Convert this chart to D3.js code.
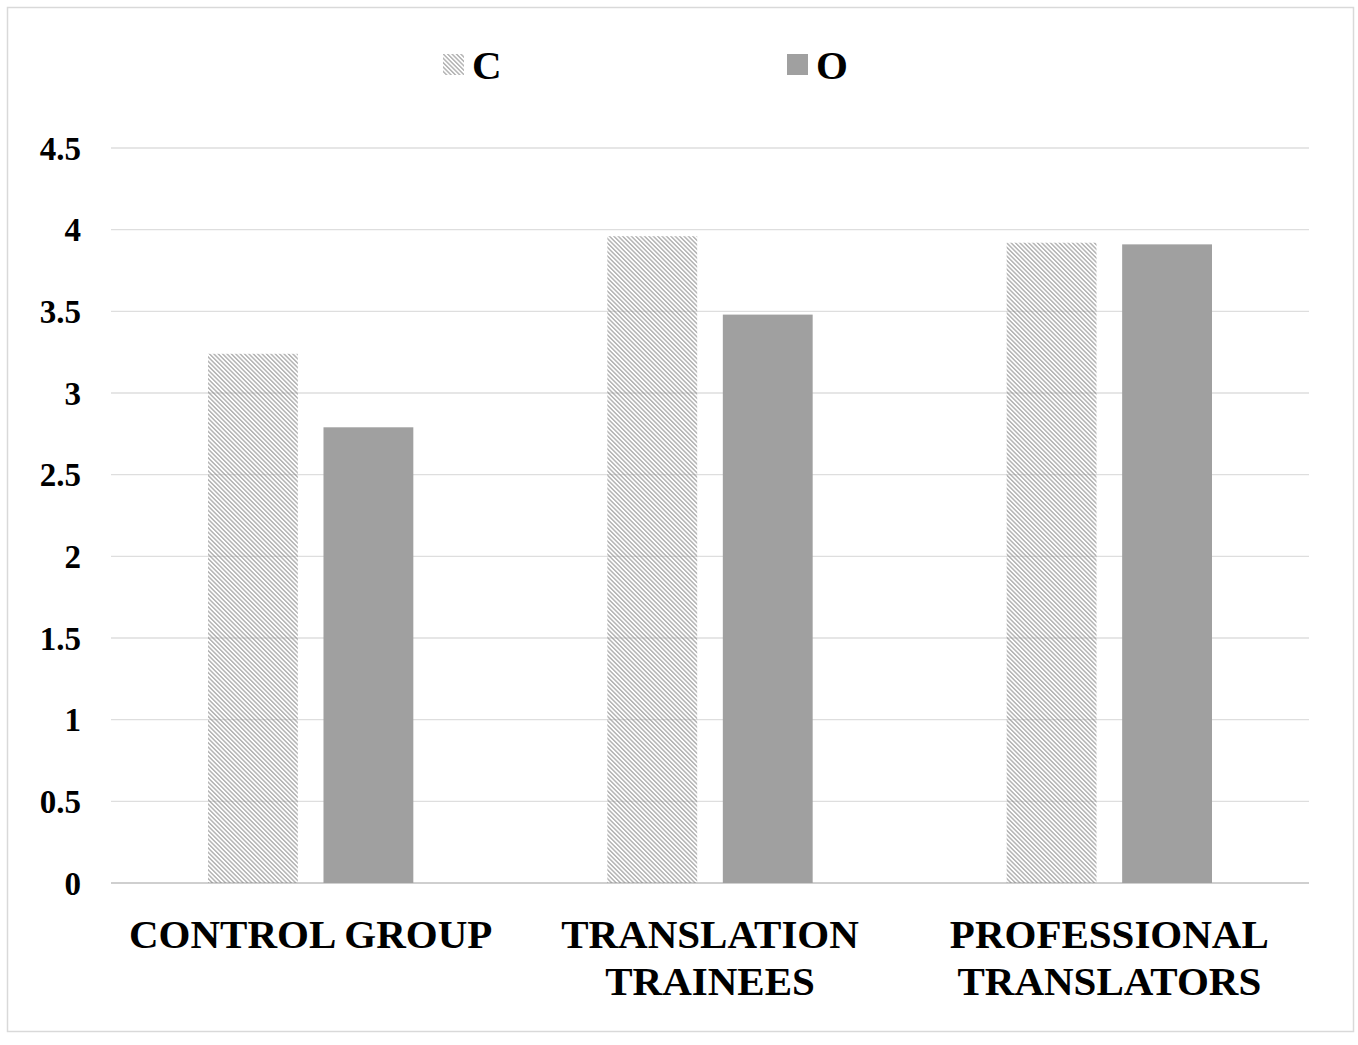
<!DOCTYPE html>
<html>
<head>
<meta charset="utf-8">
<script src="https://cdn.jsdelivr.net/npm/d3@7"></script>
<style>
  body { margin: 0; background: #fff; }
  text { font-family: "Liberation Serif", "Times New Roman", serif; font-weight: bold; fill: #000; }
</style>
</head>
<body>
<svg id="chart" width="1358" height="1045"></svg>
<script>
// data
const groups = ["CONTROL GROUP", "TRANSLATION TRAINEES", "PROFESSIONAL TRANSLATORS"];
const groupLines = [["CONTROL GROUP"], ["TRANSLATION", "TRAINEES"], ["PROFESSIONAL", "TRANSLATORS"]];
const series = ["C", "O"];
const valuesC = [3.24, 3.96, 3.92];
const valuesO = [2.79, 3.48, 3.91];
const yTicks = [0, 0.5, 1, 1.5, 2, 2.5, 3, 3.5, 4, 4.5];

const W = 1358, H = 1045;
const plotLeft = 111, plotRight = 1309, plotBottom = 883, plotTop = 148;

const svg = d3.select("#chart");

// hatch for series C
const defs = svg.append("defs");
defs.append("pattern")
    .attr("id", "hatch")
    .attr("patternUnits", "userSpaceOnUse")
    .attr("width", 8)
    .attr("height", 3.1)
    .attr("patternTransform", "rotate(45)")
  .append("line")
    .attr("x1", 0).attr("y1", 0.8)
    .attr("x2", 8).attr("y2", 0.8)
    .attr("stroke", "#888")
    .attr("stroke-width", 0.95);

// outer frame
svg.append("rect")
    .attr("x", 7.5).attr("y", 7.5)
    .attr("width", 1346).attr("height", 1024)
    .attr("fill", "none")
    .attr("stroke", "#d9d9d9")
    .attr("stroke-width", 1.5);

const x = d3.scaleBand().domain(groups).range([plotLeft, plotRight]);
const xs = d3.scaleBand().domain(series).range([0, x.bandwidth()])
    .paddingInner(0.222).paddingOuter(0.84);
const y = d3.scaleLinear().domain([0, 4.5]).range([plotBottom, plotTop]);

// gridlines
svg.append("g")
  .selectAll("line")
  .data(yTicks)
  .join("line")
    .attr("x1", plotLeft).attr("x2", plotRight)
    .attr("y1", d => y(d)).attr("y2", d => y(d))
    .attr("stroke", d => d === 0 ? "#cfcfcf" : "#dedede")
    .attr("stroke-width", d => d === 0 ? 2 : 1.3);

// y labels
svg.append("g")
  .selectAll("text")
  .data(yTicks)
  .join("text")
    .attr("x", 81)
    .attr("y", d => y(d))
    .attr("dy", "0.35em")
    .attr("text-anchor", "end")
    .style("font-size", "33px")
    .text(d => d);

// bars
const rows = groups.map((g, i) => ({group: g, C: valuesC[i], O: valuesO[i]}));
const fills = {C: "url(#hatch)", O: "#a0a0a0"};

svg.append("g")
  .selectAll("g")
  .data(rows)
  .join("g")
    .attr("transform", d => `translate(${x(d.group)},0)`)
  .selectAll("rect")
  .data(d => series.map(s => ({key: s, value: d[s]})))
  .join("rect")
    .attr("x", d => xs(d.key))
    .attr("width", xs.bandwidth())
    .attr("y", d => y(d.value))
    .attr("height", d => y(0) - y(d.value))
    .attr("fill", d => fills[d.key]);

// x labels
const xl = svg.append("g")
  .selectAll("text")
  .data(groups)
  .join("text")
    .attr("x", d => x(d) + x.bandwidth() / 2)
    .attr("y", 948)
    .attr("text-anchor", "middle")
    .style("font-size", "41px");
xl.selectAll("tspan")
  .data((d, i) => groupLines[i])
  .join("tspan")
    .attr("x", function() { return this.parentNode.getAttribute("x"); })
    .attr("dy", (d, i) => i === 0 ? 0 : 47)
    .text(d => d);

// legend
const legendPos = [443, 787];
const lg = svg.append("g")
  .selectAll("g")
  .data(series)
  .join("g")
    .attr("transform", (d, i) => `translate(${legendPos[i]},0)`);
lg.append("rect")
    .attr("x", 0).attr("y", 54)
    .attr("width", 21).attr("height", 21)
    .attr("fill", d => fills[d]);
lg.append("text")
    .attr("x", 29).attr("y", 79)
    .style("font-size", "41px")
    .text(d => d);
</script>
</body>
</html>
